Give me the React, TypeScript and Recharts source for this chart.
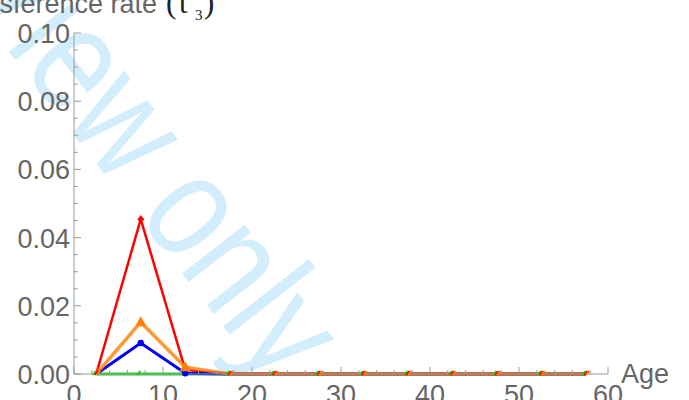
import { LineChart, Line, XAxis, YAxis, Customized } from "recharts";

// age group midpoints
const ages = [2.5, 7.5, 12.5, 17.5, 22.5, 27.5, 32.5, 37.5, 42.5, 47.5, 52.5, 57.5];

// transference rate per series
const greenRates = [0, 0, 0, 0, 0, 0, 0, 0, 0, 0, 0, 0];
const redRates = [0, 0.0454, 0.0012, 0, 0, 0, 0, 0, 0, 0, 0, 0];
const blueRates = [0, 0.0091, 0.0002, 0, 0, 0, 0, 0, 0, 0, 0, 0];
const orangeRates = [0, 0.0152, 0.002, 0, 0, 0, 0, 0, 0, 0, 0, 0];

const xTicks = [0, 2, 4, 6, 8, 10, 12, 14, 16, 18, 20, 22, 24, 26, 28, 30, 32, 34, 36, 38, 40, 42, 44, 46, 48, 50, 52, 54, 56, 58, 60];
const yTicks = [0, 0.005, 0.01, 0.015, 0.02, 0.025, 0.03, 0.035, 0.04, 0.045, 0.05, 0.055, 0.06, 0.065, 0.07, 0.075, 0.08, 0.085, 0.09, 0.095, 0.1];

const data = ages.map((age, i) => ({
  age,
  green: greenRates[i],
  red: redRates[i],
  blue: blueRates[i],
  orange: orangeRates[i],
}));

const AXIS = "#9a9a9a";
const LABEL = "#666666";
const FONT = "'Liberation Sans', Arial, sans-serif";
const SERIF = "'Liberation Serif', serif";

const XTick = ({ x, y, payload }: any) => {
  const v = payload.value;
  const major = v % 10 === 0;
  return (
    <g>
      <line x1={x} x2={x} y1={y} y2={y - (major ? 7 : 4)} stroke={AXIS} strokeWidth={1} />
      {major && (
        <text x={x} y={y + 30} textAnchor="middle" fill={LABEL} fontSize={27} fontFamily={FONT}>
          {v}
        </text>
      )}
    </g>
  );
};

const YTick = ({ x, y, payload }: any) => {
  const v = payload.value;
  const major = Math.round(v * 1000) % 20 === 0;
  return (
    <g>
      <line x1={x} x2={x + (major ? 7 : 4)} y1={y} y2={y} stroke={AXIS} strokeWidth={1} />
      {major && (
        <text x={x - 4} y={y + 10} textAnchor="end" fill={LABEL} fontSize={27} fontFamily={FONT}>
          {v.toFixed(2)}
        </text>
      )}
    </g>
  );
};

// markers sitting on the zero line are mostly clipped in the original
const tinyMark = (p: any, color: string, dx: number) => (
  <path
    key={p.index}
    d={`M${p.cx + dx - 1.5},${p.cy + 1} L${p.cx + dx + 1.5},${p.cy - 3}`}
    stroke={color}
    strokeWidth={2}
  />
);

const circleDot = (color: string) => (p: any) =>
  p.value === 0 ? (
    <g key={p.index} />
  ) : (
    <circle key={p.index} cx={p.cx} cy={p.cy} r={3.2} fill={color} />
  );
const triangleDot = (color: string) => (p: any) =>
  p.value === 0 ? (
    tinyMark(p, color, 2)
  ) : (
    <path
      key={p.index}
      d={`M${p.cx},${p.cy - 6} L${p.cx + 5.5},${p.cy + 4} L${p.cx - 5.5},${p.cy + 4} Z`}
      fill={color}
    />
  );
const diamondDot = (color: string) => (p: any) =>
  p.value === 0 ? (
    tinyMark(p, color, 0)
  ) : (
    <path
      key={p.index}
      d={`M${p.cx},${p.cy - 4} L${p.cx + 3.5},${p.cy} L${p.cx},${p.cy + 4} L${p.cx - 3.5},${p.cy} Z`}
      fill={color}
    />
  );
const squareDot = (color: string) => (p: any) =>
  p.value === 0 ? tinyMark(p, color, -2) : (
    <rect key={p.index} x={p.cx - 2.5} y={p.cy - 2.5} width={5} height={5} fill={color} />
  );

const Overlay = () => (
  <g>
    <text
      x={-44}
      y={-16}
      transform="rotate(52 -44 -16)"
      fill="#d2edfb"
      fontSize={150}
      fontFamily={FONT}
      textLength={513}
      lengthAdjust="spacingAndGlyphs"
    >
      View only
    </text>
    <text x={157} y={13} textAnchor="end" fill={LABEL} fontSize={27} fontFamily={FONT}>
      Transference rate
    </text>
    <text x={166} y={13} fill="#222" fontSize={31} fontFamily={SERIF}>(</text>
    <text x={179} y={13} fill="#222" fontSize={31} fontFamily={SERIF}>t</text>
    <text x={195} y={20} fill="#222" fontSize={15} fontFamily={SERIF}>3</text>
    <text x={204} y={13} fill="#222" fontSize={31} fontFamily={SERIF}>)</text>
    <text x={621} y={383} fill={LABEL} fontSize={27} fontFamily={FONT}>
      Age
    </text>
  </g>
);

export default function App() {
  return (
    <div style={{ position: "absolute", left: 0, top: 0, background: "#fff" }}>
      <LineChart
        width={689}
        height={400}
        data={data}
        margin={{ top: 33, right: 81, bottom: 0, left: 0 }}
      >
        <Customized component={Overlay} />
        <XAxis
          type="number"
          dataKey="age"
          domain={[0, 60]}
          ticks={xTicks}
          interval={0}
          height={26}
          tickSize={0}
          tickMargin={0}
          tickLine={false}
          axisLine={{ stroke: AXIS }}
          tick={<XTick />}
        />
        <YAxis
          type="number"
          domain={[0, 0.1]}
          ticks={yTicks}
          interval={0}
          width={74}
          tickSize={0}
          tickMargin={0}
          tickLine={false}
          axisLine={{ stroke: AXIS }}
          tick={<YTick />}
        />
        <Line
          dataKey="green"
          stroke="#22cc22"
          strokeWidth={3}
          dot={squareDot("#22cc22")}
          isAnimationActive={false}
        />
        <Line
          dataKey="red"
          stroke="#ff0000"
          strokeWidth={2.5}
          dot={diamondDot("#ff0000")}
          isAnimationActive={false}
        />
        <Line
          dataKey="blue"
          stroke="#0000ff"
          strokeWidth={3}
          dot={circleDot("#0000ff")}
          isAnimationActive={false}
        />
        <Line
          dataKey="orange"
          stroke="#ff8000"
          strokeOpacity={0.8}
          strokeWidth={3.5}
          dot={triangleDot("#ff8000")}
          isAnimationActive={false}
        />
      </LineChart>
    </div>
  );
}
